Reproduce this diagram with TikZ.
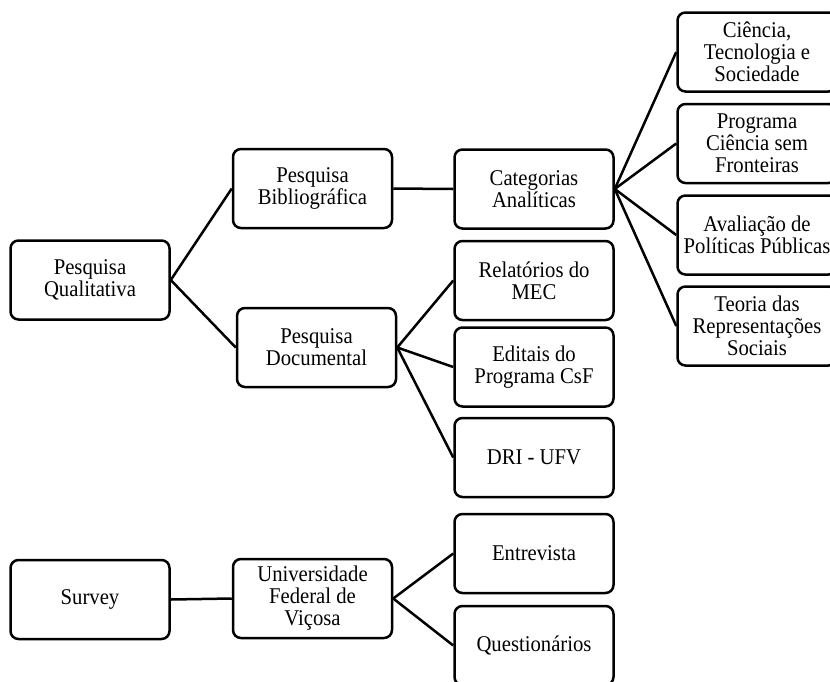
\documentclass[tikz,border=0pt]{standalone}
\usepackage{fontspec}
\setmainfont[FakeStretch=0.92]{Liberation Serif}
\begin{document}
\begin{tikzpicture}[x=1pt,y=-1pt,
  box/.style={draw, line width=2.5pt, rounded corners=8pt, minimum width=159pt, minimum height=79pt, inner sep=0pt, align=center, font=\fontsize{22.5}{22}\selectfont},
  link/.style={line width=2.5pt}]
\useasboundingbox (0,0) rectangle (830,681);
\node[box] (pq) at (90,280) {Pesquisa\\Qualitativa};
\node[box] (pb) at (312.5,188.5) {Pesquisa\\Bibliográfica};
\node[box] (pd) at (316.5,347.5) {Pesquisa\\Documental};
\node[box] (ca) at (534,189) {Categorias\\Analíticas};
\node[box] (rm) at (534,280.5) {Relatórios do\\MEC};
\node[box] (ep) at (534,367) {Editais do\\Programa CsF};
\node[box] (dri) at (534,457.5) {DRI - UFV};
\node[box] (cts) at (757,52) {Ciência,\\Tecnologia e\\Sociedade};
\node[box] (pcsf) at (757,143.5) {Programa\\Ciência sem\\Fronteiras};
\node[box] (app) at (757,235) {Avaliação de\\Políticas Públicas};
\node[box] (trs) at (757,326) {Teoria das\\Representações\\Sociais};
\node[box] (sv) at (90,599.5) {Survey};
\node[box] (ufv) at (312.5,598.5) {Universidade\\Federal de\\Viçosa};
\node[box] (ent) at (534,553.5) {Entrevista};
\node[box] (qst) at (534,645.5) {Questionários};
\draw[link] (pq.east) -- (pb.west);
\draw[link] (pq.east) -- (pd.west);
\draw[link] (pb.east) -- (ca.west);
\draw[link] (ca.east) -- (cts.west);
\draw[link] (ca.east) -- (pcsf.west);
\draw[link] (ca.east) -- (app.west);
\draw[link] (ca.east) -- (trs.west);
\draw[link] (pd.east) -- (rm.west);
\draw[link] (pd.east) -- (ep.west);
\draw[link] (pd.east) -- (dri.west);
\draw[link] (sv.east) -- (ufv.west);
\draw[link] (ufv.east) -- (ent.west);
\draw[link] (ufv.east) -- (qst.west);
\end{tikzpicture}
\end{document}
